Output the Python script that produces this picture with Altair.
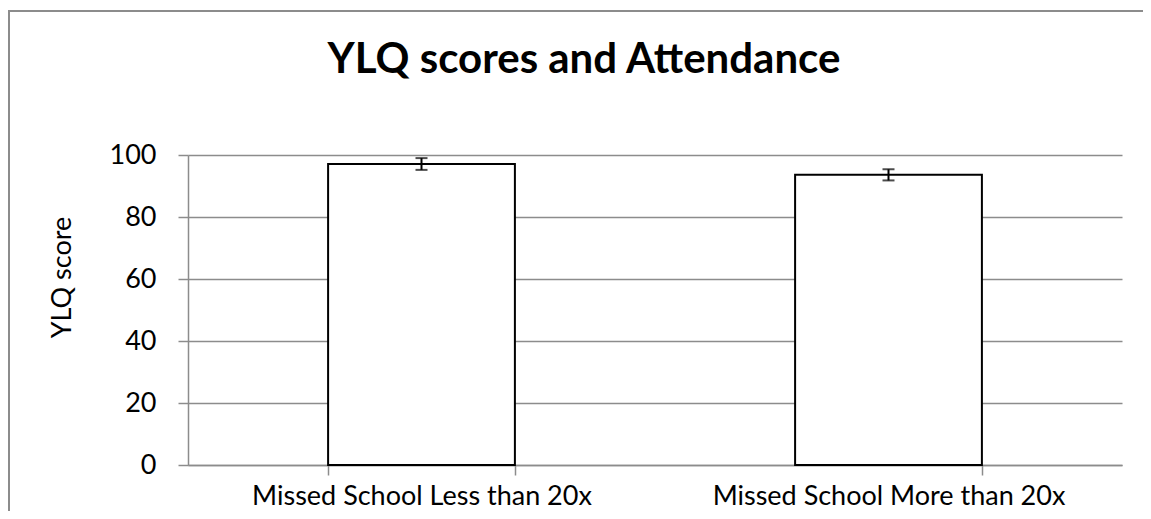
import altair as alt
import pandas as pd

categories = ["Missed School Less than 20x", "Missed School More than 20x"]
scores = [97.1, 93.6]
errors = [1.9, 1.8]
y_ticks = [0, 20, 40, 60, 80, 100]

df = pd.DataFrame({"cat": categories, "score": scores, "err": errors})
df["lo"] = df["score"] - df["err"]
df["hi"] = df["score"] + df["err"]

W, H = 934, 310
FONT = "Lato"
GRAY = "#8c8c8c"

xenc = alt.X(
    "cat:N", sort=categories, title=None,
    scale=alt.Scale(paddingInner=0.6, paddingOuter=0.3),
    axis=alt.Axis(labelAngle=0, labelFont=FONT, labelFontSize=27, labelColor="black",
                  labelLimit=0, labelPadding=8, tickBand="extent", tickSize=10,
                  tickColor=GRAY, tickWidth=1.5, domainColor=GRAY, domainWidth=1.5,
                  grid=False),
)
yscale = alt.Scale(domain=[0, 100])
yaxis = alt.Axis(values=y_ticks, title="YLQ score", titleFont=FONT, titleFontSize=27,
                 titleFontWeight="normal", titleColor="black", titleAngle=270,
                 titleX=-126, titleY=122, titleAlign="center", titleBaseline="middle",
                 labelFont=FONT, labelFontSize=27, labelColor="black", labelPadding=22,
                 tickSize=10, tickColor=GRAY, tickWidth=1.5, domainColor=GRAY,
                 domainWidth=1.5, grid=True, gridColor=GRAY, gridWidth=1.5)

base = alt.Chart(df)

frame = base.mark_rect(filled=False, stroke=GRAY, strokeWidth=2).encode(
    x=alt.value(-179), x2=alt.value(1300), y=alt.value(-144), y2=alt.value(700)
)

bars = base.mark_bar(fill="white", stroke="black", strokeWidth=2).encode(
    x=xenc, y=alt.Y("score:Q", scale=yscale, axis=yaxis)
)
rule = base.mark_rule(color="black", strokeWidth=2).encode(
    x=xenc, y=alt.Y("lo:Q", scale=yscale, axis=yaxis), y2="hi:Q"
)
cap_hi = base.mark_tick(color="black", thickness=2, size=12).encode(
    x=xenc, y=alt.Y("hi:Q", scale=yscale, axis=yaxis)
)
cap_lo = base.mark_tick(color="black", thickness=2, size=12).encode(
    x=xenc, y=alt.Y("lo:Q", scale=yscale, axis=yaxis)
)

chart = alt.layer(frame, bars, rule, cap_hi, cap_lo).properties(
    width=W, height=H,
    autosize=alt.AutoSizeParams(type="none"),
    padding={"left": 180, "top": 147, "right": 21, "bottom": 46},
    background="white",
    title=alt.TitleParams("YLQ scores and Attendance", font=FONT, fontSize=42,
                          fontWeight="bold", color="black", anchor="middle",
                          dx=-71, dy=72, offset=0),
).configure_view(stroke=None)

chart.save("out.html", embed_options={"renderer": "svg", "actions": False})
